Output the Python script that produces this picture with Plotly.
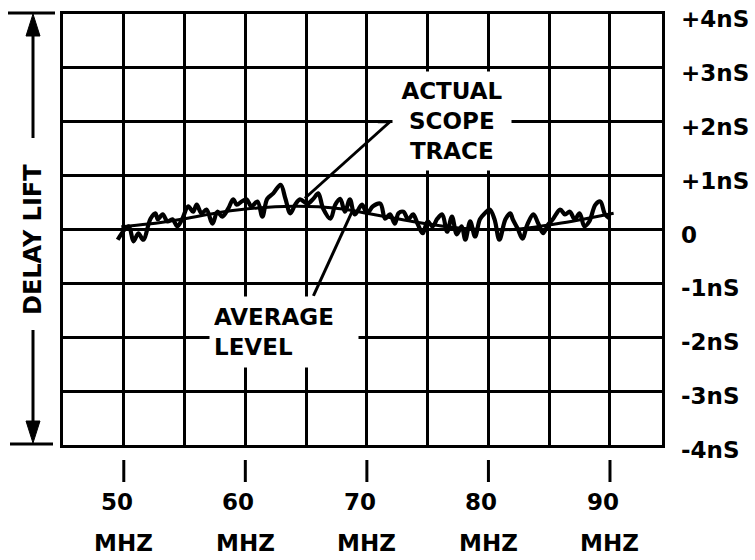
import plotly.graph_objects as go

# ---------------- data ----------------
trace_mhz = [49.5, 50.4, 50.8, 51.2, 51.6, 52.2, 52.6, 52.8, 53.2, 53.6,
             54.0, 54.4, 54.8, 55.3, 55.7, 56.0, 56.4, 56.8, 57.3, 57.7,
             58.1, 58.6, 59.0, 59.3, 59.7, 60.1, 60.5, 61.0, 61.4, 61.8,
             62.3, 62.9, 63.3, 63.7, 64.1, 64.5, 65.1, 65.6, 66.0, 66.4,
             67.0, 67.4, 67.8, 68.2, 68.6, 69.0, 69.6, 70.0, 70.5, 71.1,
             71.5, 71.9, 72.3, 72.6, 73.0, 73.4, 73.8, 74.2, 74.6, 75.0,
             75.4, 75.8, 76.2, 76.6, 77.0, 77.4, 77.8, 78.1, 78.5, 78.9,
             79.3, 79.7, 80.1, 80.5, 80.9, 81.4, 81.8, 82.0, 82.4, 82.8,
             83.2, 83.7, 84.1, 84.5, 84.9, 85.3, 85.9, 86.3, 86.7, 87.1,
             87.5, 87.9, 88.3, 88.8, 89.2, 89.6, 90.0]
trace_ns = [-0.19, 0.06, -0.22, -0.07, -0.19, 0.20, 0.30, 0.19, 0.28, 0.15,
            0.19, 0.06, 0.19, 0.43, 0.33, 0.46, 0.30, 0.37, 0.11, 0.33,
            0.24, 0.39, 0.56, 0.46, 0.52, 0.56, 0.43, 0.52, 0.24, 0.57,
            0.67, 0.83, 0.57, 0.30, 0.46, 0.56, 0.48, 0.57, 0.67, 0.39,
            0.20, 0.46, 0.57, 0.33, 0.56, 0.28, 0.46, 0.30, 0.43, 0.48,
            0.20, 0.28, 0.11, 0.30, 0.33, 0.19, 0.28, 0.09, -0.07, 0.15,
            0.06, 0.20, 0.28, -0.04, 0.24, -0.09, 0.06, -0.19, 0.15, -0.13,
            0.19, 0.30, 0.37, 0.19, -0.19, 0.19, 0.30, 0.19, 0.02, -0.17,
            0.09, 0.28, 0.11, -0.07, 0.09, 0.19, 0.37, 0.28, 0.33, 0.19,
            0.30, 0.06, 0.15, 0.46, 0.52, 0.28, 0.20]

avg_mhz = [49.8, 52, 55, 58, 61, 64, 66, 68, 70, 72, 74, 76, 78, 80, 82, 84, 86, 88, 90.3]
avg_ns = [0.05, 0.10, 0.20, 0.32, 0.40, 0.43, 0.42, 0.38, 0.30, 0.22, 0.14, 0.07, 0.02, 0.0, 0.0, 0.05, 0.12, 0.20, 0.30]

x_tick_vals = [50, 60, 70, 80, 90]
x_tick_nums = ["50", "60", "70", "80", "90"]
x_unit = "MHZ"
x_grid_vals = [45, 50, 55, 60, 65, 70, 75, 80, 85, 90]
y_tick_vals = [4, 3, 2, 1, 0, -1, -2, -3, -4]
y_tick_text = ["+4nS", "+3nS", "+2nS", "+1nS", "0", "-1nS", "-2nS", "-3nS", "-4nS"]

# ---------------- layout geometry ----------------
W, H = 755, 560
L, R, T, B = 63, 93, 14, 115
PW, PH = W - L - R, H - T - B
X_RANGE = [45, 94.28]
Y_RANGE = [-4, 4]

FONT = dict(family="DejaVu Sans", size=23, color="black", weight="bold")


def px(xp):
    return (xp - L) / PW


def py(yp):
    return (H - B - yp) / PH


fig = go.Figure()

fig.add_trace(go.Scatter(x=avg_mhz, y=avg_ns, mode="lines",
                         line=dict(color="black", width=3, shape="spline", smoothing=1.0),
                         hoverinfo="skip", showlegend=False))
fig.add_trace(go.Scatter(x=trace_mhz, y=trace_ns, mode="lines",
                         line=dict(color="black", width=4.2, shape="spline", smoothing=1.0),
                         hoverinfo="skip", showlegend=False))

shapes = []
annotations = []

# tick marks below the grid and two-line tick labels
for v, num in zip(x_tick_vals, x_tick_nums):
    shapes.append(dict(type="line", xref="x", yref="paper", x0=v, x1=v,
                       y0=py(460), y1=py(482), line=dict(color="black", width=3)))
    annotations.append(dict(x=v, y=py(502), xref="x", yref="paper", text=num,
                            showarrow=False, xanchor="left", yanchor="middle",
                            xshift=-25, font=FONT))
    annotations.append(dict(x=v, y=py(543), xref="x", yref="paper", text=x_unit,
                            showarrow=False, xanchor="center", yanchor="middle",
                            font=FONT))

# right-hand value labels
for v, t in zip(y_tick_vals, y_tick_text):
    annotations.append(dict(x=1, y=v, xref="paper", yref="y", text=t,
                            showarrow=False, xanchor="left", yanchor="middle",
                            xshift=17, yshift=-5, font=FONT))

# leaders
line_style = dict(color="black", width=3)
shapes.append(dict(type="line", xref="x", yref="y", x0=64.9, y0=0.58, x1=71.9, y1=2.0, line=line_style))
shapes.append(dict(type="line", xref="x", yref="y", x0=70.9, y0=2.0, x1=71.9, y1=2.0, line=line_style))
shapes.append(dict(type="line", xref="x", yref="y", x0=65.6, y0=-1.23, x1=68.8, y1=0.34, line=line_style))

# DELAY LIFT arrows
shapes.append(dict(type="line", xref="paper", yref="paper", x0=px(33), x1=px(33), y0=py(30), y1=py(138), line=line_style))
shapes.append(dict(type="line", xref="paper", yref="paper", x0=px(33), x1=px(33), y0=py(330), y1=py(428), line=line_style))
shapes.append(dict(type="line", xref="paper", yref="paper", x0=px(8), x1=px(55), y0=py(13), y1=py(13), line=line_style))
shapes.append(dict(type="line", xref="paper", yref="paper", x0=px(10), x1=px(53), y0=py(444), y1=py(444), line=line_style))
tri_top = f"M {px(33)} {py(14)} L {px(26)} {py(36)} L {px(40)} {py(36)} Z"
tri_bot = f"M {px(33)} {py(443)} L {px(26)} {py(421)} L {px(40)} {py(421)} Z"
for p in (tri_top, tri_bot):
    shapes.append(dict(type="path", xref="paper", yref="paper", path=p,
                       fillcolor="black", line=dict(color="black", width=1)))

annotations.append(dict(x=px(33), y=py(240), xref="paper", yref="paper",
                        xanchor="center", yanchor="middle",
                        text="DELAY LIFT", textangle=-90, showarrow=False,
                        font=dict(FONT, size=24)))

# callout text blocks (white background hides grid behind them)
annotations.append(dict(x=77.03, y=2.01, xref="x", yref="y",
                        text="ACTUAL<br>SCOPE<br>TRACE", showarrow=False,
                        align="center", bgcolor="white", width=112, height=92,
                        borderpad=3, font=FONT))
annotations.append(dict(x=63.2, y=-1.91, xref="x", yref="y",
                        text="AVERAGE<br>LEVEL", showarrow=False,
                        align="left", bgcolor="white", width=140, height=62,
                        borderpad=4, font=FONT))

fig.update_layout(
    width=W, height=H, autosize=False,
    margin=dict(l=L, r=R, t=T, b=B, pad=0),
    paper_bgcolor="white", plot_bgcolor="white",
    shapes=shapes, annotations=annotations,
    showlegend=False,
    xaxis=dict(range=X_RANGE, tickvals=x_grid_vals, showticklabels=False,
               showgrid=True, gridcolor="black", gridwidth=3,
               showline=True, linecolor="black", linewidth=3, mirror=True,
               zeroline=False, ticks="", fixedrange=True),
    yaxis=dict(range=Y_RANGE, tickvals=y_tick_vals, showticklabels=False,
               showgrid=True, gridcolor="black", gridwidth=3,
               showline=True, linecolor="black", linewidth=3, mirror=True,
               zeroline=False, ticks="", fixedrange=True),
)

fig.write_html("out.html", config={"displayModeBar": False},
               post_script="document.body.style.margin='0px';")
